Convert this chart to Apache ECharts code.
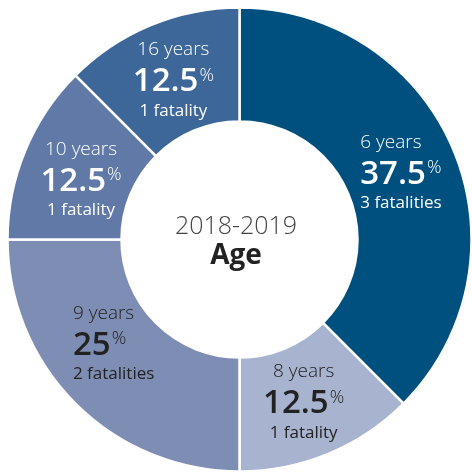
<!DOCTYPE html>
<html>
<head>
<meta charset="utf-8">
<script src="https://cdn.jsdelivr.net/npm/echarts@6/dist/echarts.min.js"></script>
<style>
  html, body { margin: 0; padding: 0; background: #ffffff; }
  #chart { width: 472px; height: 474px; }
</style>
</head>
<body>
<div id="chart"></div>
<script>
// age groups
var categories = ['6 years', '8 years', '9 years', '10 years', '16 years']
var fatalities = [3, 1, 2, 1, 1]
var percents = ['37.5', '12.5', '25', '12.5', '12.5']

var sliceColors = ['#00507f', '#a7b3cf', '#7e8db4', '#6079a6', '#3e6799']
var textColors = ['#ffffff', '#222222', '#222222', '#ffffff', '#ffffff']
var textAligns = ['left', 'center', 'left', 'center', 'center']
var labelOffsets = [[-3, 0], [-4, -3], [0, -23], [6, 7], [2, 4]]

var myChart = echarts.init(document.getElementById('chart'))

var seriesData = categories.map(function(name, i) {
  var c = textColors[i]
  var a = textAligns[i]
  return {
    name: name,
    value: fatalities[i],
    itemStyle: { color: sliceColors[i] },
    label: {
      offset: labelOffsets[i],
      rich: {
        yr: { fontSize: 19, color: c, fontWeight: 300, lineHeight: 33, align: a, fontFamily: 'Open Sans' },
        big: { fontSize: 33, color: c, fontWeight: 600, lineHeight: 31, align: a, fontFamily: 'Open Sans' },
        pct: { fontSize: 18, color: c, fontWeight: 300, lineHeight: 31, align: a, verticalAlign: 'top', padding: [0, 0, 12, 1], fontFamily: 'Open Sans' },
        fat: { fontSize: 17, color: c, lineHeight: 27, align: a, fontFamily: 'Open Sans' }
      }
    }
  }
})

var option = {
  backgroundColor: '#ffffff',
  animation: false,
  title: {
    left: 'center',
    top: 208,
    text: '{yr|2018-2019}\n{age|Age}',
    textStyle: {
      rich: {
        yr: { fontSize: 25, color: '#444444', fontWeight: 300, lineHeight: 28, fontFamily: 'Open Sans' },
        age: { fontSize: 28, color: '#222222', fontWeight: 'bold', lineHeight: 30, fontFamily: 'Open Sans' }
      }
    }
  },
  series: [
    {
      type: 'pie',
      center: [239.5, 239.5],
      radius: [118, 232],
      startAngle: 90,
      clockwise: true,
      avoidLabelOverlap: false,
      itemStyle: {
        borderColor: '#ffffff',
        borderWidth: 2.5
      },
      label: {
        show: true,
        position: 'inside',
        formatter: function(params) {
          var i = params.dataIndex
          var n = fatalities[i]
          var line2 = '{big|' + percents[i] + '}{pct|%}'
          return '{yr|' + categories[i] + '}\n' + line2 + '\n{fat|' + n + (n === 1 ? ' fatality' : ' fatalities') + '}'
        }
      },
      labelLine: { show: false },
      emphasis: { disabled: true },
      data: seriesData
    }
  ]
}

myChart.setOption(option, true)
window.addEventListener('resize', () => {
  myChart.resize()
})
</script>
</body>
</html>
